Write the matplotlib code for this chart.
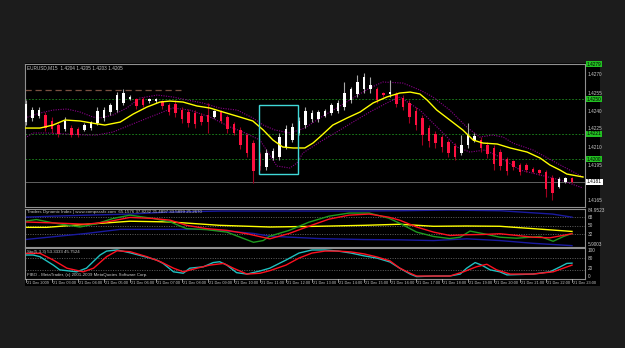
import numpy as np
import matplotlib.pyplot as plt
from matplotlib.patches import Rectangle

plt.rcParams['font.family'] = ['Liberation Sans', 'DejaVu Sans']

# EURUSD M15 candles (21 Dec 2009, 02:00 ...)
opens  = [1.4231,1.4234,1.4236,1.4237,1.4232,1.4228,1.4225,1.4226,1.4225,1.4224,
          1.4226,1.4230,1.4234,1.4239,1.4241,1.4247,1.4250,1.4250,1.4250,1.4248,
          1.4248,1.4248,1.4245,1.4246,1.4241,1.4239,1.4238,1.4236,1.4237,1.4235,
          1.4239,1.4235,1.4229,1.4224,1.4220,1.4213,1.4204,1.4193,1.4201,1.4202,
          1.4210,1.4216,1.4222,1.4228,1.4233,1.4233,1.4236,1.4238,1.4240,1.4243,
          1.4249,1.4254,1.4258,1.4258,1.4258,1.4255,1.4254,1.4254,1.4251,1.4247,
          1.4240,1.4234,1.4226,1.4221,1.4218,1.4214,1.4211,1.4205,1.4212,1.4215,
          1.4216,1.4212,1.4209,1.4206,1.4200,1.4198,1.4195,1.4195,1.4192,1.4191,
          1.4189,1.4184,1.4177,1.4181,1.4184]
highs  = [1.4249,1.4243,1.4243,1.4239,1.4235,1.4230,1.4235,1.4228,1.4227,1.4230,
          1.4232,1.4243,1.4243,1.4247,1.4256,1.4258,1.4253,1.4251,1.4252,1.4251,
          1.4251,1.4249,1.4247,1.4249,1.4243,1.4242,1.4241,1.4238,1.4247,1.4241,
          1.4241,1.4237,1.4231,1.4227,1.4222,1.4216,1.4206,1.4208,1.4209,1.4222,
          1.4228,1.4230,1.4235,1.4243,1.4241,1.4241,1.4242,1.4247,1.4249,1.4264,
          1.4260,1.4270,1.4272,1.4268,1.4260,1.4256,1.4266,1.4256,1.4253,1.4249,
          1.4243,1.4237,1.4228,1.4223,1.4220,1.4216,1.4213,1.4220,1.4230,1.4222,
          1.4218,1.4214,1.4212,1.4208,1.4202,1.4199,1.4197,1.4197,1.4193,1.4192,
          1.4191,1.4187,1.4185,1.4185,1.4185]
lows   = [1.4228,1.4232,1.4234,1.4223,1.4222,1.4218,1.4223,1.4218,1.4218,1.4223,
          1.4224,1.4228,1.4232,1.4237,1.4239,1.4245,1.4249,1.4242,1.4243,1.4247,
          1.4247,1.4242,1.4237,1.4235,1.4230,1.4227,1.4226,1.4228,1.4222,1.4234,
          1.4230,1.4222,1.4220,1.4208,1.4202,1.4180,1.4191,1.4191,1.4199,1.4199,
          1.4208,1.4214,1.4220,1.4226,1.4231,1.4231,1.4235,1.4237,1.4238,1.4241,
          1.4247,1.4252,1.4255,1.4255,1.4247,1.4252,1.4252,1.4243,1.4241,1.4230,
          1.4224,1.4212,1.4210,1.4209,1.4206,1.4202,1.4199,1.4203,1.4209,1.4214,
          1.4206,1.4201,1.4191,1.4191,1.4187,1.4191,1.4187,1.4189,1.4188,1.4187,
          1.4168,1.4166,1.4176,1.4180,1.4180]
closes = [1.4246,1.4241,1.4241,1.4226,1.4225,1.4221,1.4232,1.4220,1.4220,1.4228,
          1.4231,1.4240,1.4241,1.4245,1.4253,1.4255,1.4252,1.4244,1.4245,1.4250,
          1.4250,1.4244,1.4239,1.4238,1.4233,1.4230,1.4229,1.4231,1.4231,1.4240,
          1.4232,1.4225,1.4222,1.4212,1.4205,1.4190,1.4194,1.4205,1.4207,1.4218,
          1.4225,1.4227,1.4232,1.4240,1.4238,1.4239,1.4240,1.4245,1.4247,1.4255,
          1.4258,1.4264,1.4268,1.4262,1.4249,1.4253,1.4256,1.4246,1.4243,1.4235,
          1.4228,1.4220,1.4215,1.4213,1.4210,1.4205,1.4202,1.4212,1.4220,1.4219,
          1.4209,1.4204,1.4196,1.4194,1.4190,1.4193,1.4189,1.4191,1.4189,1.4188,
          1.4175,1.4172,1.4183,1.4184,1.4181]

# moving average (yellow) and envelope (purple dotted), read at points
ma_x = [-0.15,2.15,4.15,6.0,8.3,10.15,12.15,14.5,16.5,18.6,20.6,22.15,24.15,26.3,28.3,
        30.3,32.9,34.9,36.5,38.0,39.5,41.1,42.9,44.15,45.2,47.2,49.4,51.4,53.4,55.5,
        57.5,59.1,60.6,61.7,63.2,65.2,67.2,68.8,70.3,72.5,74.5,77.1,79.1,80.6,82.15,83.2,85.7]
ma_y = [1.42258,1.42258,1.42283,1.42325,1.42317,1.4230,1.42283,1.42308,1.42375,1.42433,
        1.42475,1.42483,1.42475,1.42442,1.42425,1.42392,1.4235,1.42317,1.42242,1.42158,
        1.4210,1.42092,1.42092,1.42133,1.42183,1.42283,1.42342,1.42392,1.42467,1.42517,
        1.4255,1.42558,1.42542,1.42492,1.42408,1.42325,1.42242,1.42158,1.42133,1.42125,
        1.42092,1.42058,1.42008,1.4195,1.41908,1.41875,1.4185]
up_x = [-0.15,2.15,4.15,6.3,8.3,10.3,11.4,13.4,15.5,17.5,20.2,22.6,24.8,27.2,29.8,32.5,
        34.9,36.5,38.3,40.6,42.9,45.2,47.8,50.3,52.9,54.9,58.0,60.6,62.6,65.2,67.8,69.8,
        71.8,73.4,74.9,78.0,82.2,85.7]
up_y = [1.42342,1.42383,1.42408,1.42417,1.42392,1.4235,1.42342,1.42367,1.42425,1.42508,
        1.42533,1.42517,1.42492,1.42467,1.42425,1.42408,1.42342,1.42283,1.42242,1.42217,
        1.42258,1.42342,1.42425,1.42508,1.42592,1.42642,1.42633,1.42575,1.42517,1.42408,
        1.42267,1.42183,1.422,1.42183,1.42133,1.42075,1.4195,1.4185]
lo_x = [-0.15,1.1,3.2,9.4,10.9,13.4,16.0,19.1,22.6,25.2,28.3,31.4,33.4,36.0,38.6,40.6,
        41.7,42.6,45.2,47.8,50.3,52.9,55.5,57.5,60.6,63.7,66.3,68.3,70.6,72.9,76.0,79.1,
        82.2,85.7]
lo_y = [1.42175,1.42217,1.42217,1.422,1.422,1.42225,1.42283,1.4235,1.42425,1.42408,
        1.4235,1.42267,1.42225,1.42158,1.41942,1.41925,1.41967,1.4205,1.42142,1.42225,
        1.42308,1.42392,1.42467,1.42517,1.42408,1.42242,1.421,1.42058,1.42075,1.42017,
        1.41908,1.41867,1.41825,1.41758]

# Traders Dynamic Index
vbh_x = [-0.15,4,9,16,22,30,40,50,57.5,65,73,78,81,84]
vbh_y = [68,70,72,74.4,78.6,80.7,80.7,80.7,81.3,82.8,81.3,77,74.4,68]
vbl_x = [-0.15,9.3,14.5,28,35,37.5,45,52,57.5,62.7,67.8,72.9,78,84]
vbl_y = [21.4,34.1,42.6,42.6,34.1,28.4,23.5,21.4,20.8,19.3,22.9,19.3,13.6,8.7]
mbl_x = [-0.15,3.2,9.3,16,22.2,29.8,37.5,45,52,57.5,62.7,67.8,72.9,78,84]
mbl_y = [46.8,46.8,53.2,59.5,58,51,47.5,49,51,53.2,49,49.6,49,44.1,38.3]
rsi_x = [-0.15,1.6,4.2,8.3,10.9,13.4,16,19.6,22.2,24.7,27.8,30.9,35,36.5,37.5,40.5,43.5,
         46.6,49.7,52.8,55.8,57.5,60.1,62.7,65.2,66.8,68.3,70.4,72.9,75.5,79.1,81.1,82.7,84]
rsi_y = [59.5,63,56,47.5,54.6,65.2,72.2,65.2,58,44.1,42,36.9,15.7,19.3,28.4,40.5,57.4,
         70,76.5,76.5,65.9,55.3,36.9,27.8,23.5,26.3,39,33.5,26.3,24.2,27.8,17.8,27.8,34.1]
sig_x = [-0.15,4.2,9.3,12.4,16,19.6,22.2,24.7,27.8,30.9,34,37.5,40.5,43.5,46.6,49.7,
         52.8,55.8,57.5,60.1,62.7,65.2,67.8,70.4,72.9,75.5,78,80.6,84]
sig_y = [58,56,53.2,58,67.4,65.2,61.6,51,44.1,40.5,33.5,22.9,34.1,49,63.8,72.2,74.4,68,
         61.6,47.5,36.9,29.9,31.4,32,33.5,29.9,26.3,25,33.5]

# Stochastic
stm_x = [-0.15,1.1,2.15,4.2,5.2,7.8,9.3,11.4,12.4,14,16,18.6,20.1,21.1,22.7,24.2,25.2,
         27.3,28.8,29.8,30.9,32.4,34,36,37.5,40,42,44,46,48,50,52,54,56,57.5,59.1,60.1,
         62.7,65.2,66.8,67.8,69.1,70.1,71.4,72.9,74,78,80.6,82.2,83.2,84]
stm_y = [82,82,76,46,29,22,35,82,96,100,90,74,64,52,22,17,35,40,55,58,46,19,14,25,35,
         64,89,100,100,96,89,79,71,57,35,14,5,7,7,14,35,55,46,29,22,11,14,22,40,52,53]
sts_x = [-0.15,2.15,4.2,6.3,8.8,10.4,12.4,14,16,18.6,20.7,22.7,24.2,26.3,28.3,30.4,31.9,
         34,36,37.5,40,42,44,46,48,50,52,54,56,57.5,59.1,60.1,65.2,67.3,69.3,70.9,72.4,
         74.5,78,81.1,84]
sts_y = [88,88,64,35,22,35,76,97,94,76,58,35,22,35,46,52,35,14,17,26,46,71,89,96,96,93,
         86,75,61,35,17,7,7,22,40,49,29,14,14,22,46]

price_ticks = [1.4270,1.4255,1.4240,1.4225,1.4210,1.4195,1.4165]
hlines = [1.4279,1.4250,1.4221,1.4200]
bid = 1.4181
time_labels = ['21 Dec 2009'] + ['21 Dec %02d:00' % h for h in range(3, 24)]

W, H = 625, 348
fig = plt.figure(figsize=(W/100, H/100), dpi=100)
fig.patch.set_facecolor('#1c1c1c')
fig.add_artist(Rectangle((25/W, 1-286/H), 575/W, 223/H, transform=fig.transFigure,
                         facecolor='black', edgecolor='none', zorder=0))

def px_axes(top, bottom, left=25, right=585):
    ax = fig.add_axes([left/W, 1-bottom/H, (right-left)/W, (bottom-top)/H])
    ax.set_facecolor('black')
    for s in ax.spines.values():
        s.set_color('#909090')
        s.set_linewidth(0.8)
    ax.set_xlim(-0.15, 86.0)
    ax.set_xticks([])
    ax.set_yticks([])
    return ax

def ftext(x, y, s, **kw):
    kw.setdefault('color', '#c8c8c8')
    kw.setdefault('fontsize', 3.6)
    fig.text(x/W, 1-y/H, s, va='center', **kw)

grey = '#c8c8c8'

# ---- main price panel ----
ax = px_axes(64, 207)
ax.set_ylim(1.41600, 1.42792)
for p in hlines:
    ax.axhline(p, color='#1f8f1f', lw=0.6, ls=(0, (2, 2)))
ax.plot([-0.15, 23.8], [1.42575, 1.42575], color='#7a5040', lw=0.9, ls=(0, (5, 3)))
ax.axhline(bid, color='#707070', lw=0.6)

n = len(opens)
for i in range(n):
    up = closes[i] >= opens[i]
    body_c = 'white' if up else '#ff1040'
    wick_c = '#a8a8a8' if up else '#a00020'
    ax.vlines(i, lows[i], highs[i], color=wick_c, lw=0.8, zorder=3)
    h = max(abs(closes[i]-opens[i]), 0.00004)
    ax.bar(i, h, bottom=min(opens[i], closes[i]), width=0.45, color=body_c,
           edgecolor='none', zorder=4)

ax.plot(ma_x, ma_y, color='#ffff00', lw=1.0, zorder=5)
ax.plot(up_x, up_y, color='#8a008a', lw=0.8, ls=(0, (1, 1.2)), zorder=2)
ax.plot(lo_x, lo_y, color='#8a008a', lw=0.8, ls=(0, (1, 1.2)), zorder=2)
ax.add_patch(Rectangle((35.8, 1.41875), 6.0, 0.00575, fill=False,
                       edgecolor='#40d8d8', lw=1.0, zorder=6))

ftext(27, 68, 'EURUSD,M15  1.4204 1.4205 1.4203 1.4205', fontsize=3.4)
for p in price_ticks:
    ftext(588, 75 + (1.4270-p)/0.0015*18, '%.4f' % p, fontsize=3.4)
for p in hlines:
    y = 75 + (1.4270-p)/0.0015*18
    ftext(587, y, '%.4f' % p, fontsize=3.4, color='black',
          bbox=dict(boxstyle='square,pad=0.15', facecolor='#22c022', edgecolor='none'))
ftext(587, 75 + (1.4270-bid)/0.0015*18, '%.4f' % bid, fontsize=3.4, color='black',
      bbox=dict(boxstyle='square,pad=0.15', facecolor='white', edgecolor='none'))

# ---- TDI panel ----
ax2 = px_axes(209, 247)
ax2.set_ylim(5.9003, 84.9523)
for lv in [68, 50, 32]:
    ax2.axhline(lv, color='#808080', lw=0.5, ls=(0, (1.5, 2)))
ax2.plot(vbh_x, vbh_y, color='#1a1aa0', lw=1.0)
ax2.plot(vbl_x, vbl_y, color='#1a1aa0', lw=1.0)
ax2.plot(mbl_x, mbl_y, color='#ffff00', lw=1.0)
ax2.plot(rsi_x, rsi_y, color='#1e9a1e', lw=1.0)
ax2.plot(sig_x, sig_y, color='#ff1020', lw=1.0)
ftext(27, 212.5, 'Traders Dynamic Index | www.compassfx.com  65.1576 37.8232 35.4897 33.5899 25.2670',
      fontsize=3.2)
ftext(588, 211, '84.9523', fontsize=3.4)
for lv in [68, 50, 32]:
    ftext(588, 217 + (68-lv)*17/36, str(lv), fontsize=3.4)
ftext(588, 244.5, '5.9003', fontsize=3.4)

# ---- Stochastic panel ----
ax3 = px_axes(248, 279)
ax3.set_ylim(-3.6, 107)
for lv in [70, 30]:
    ax3.axhline(lv, color='#808080', lw=0.5, ls=(0, (1.5, 2)))
ax3.plot(stm_x, stm_y, color='#20c0c0', lw=1.0)
ax3.plot(sts_x, sts_y, color='#ff1020', lw=1.0)
ftext(27, 252.5, 'Sto(5,3,3) 53.3333 45.7524', fontsize=3.2)
ftext(27, 275, 'FIBO - MetaTrader, (c) 2001-2009 MetaQuotes Software Corp.', fontsize=3.2)
ftext(588, 251, '100', fontsize=3.4)
ftext(588, 259, '80', fontsize=3.4)
ftext(588, 268, '20', fontsize=3.4)
ftext(588, 276.5, '0', fontsize=3.4)

# time axis
for k, lab in enumerate(time_labels):
    x = 26 + 26*k
    fig.add_artist(plt.Line2D([x/W, x/W], [1-279/H, 1-282/H], transform=fig.transFigure,
                              color=grey, lw=0.5))
    ftext(x+1.2, 283, lab, fontsize=2.8)

fig.savefig('out.png', dpi=100, facecolor=fig.get_facecolor())
